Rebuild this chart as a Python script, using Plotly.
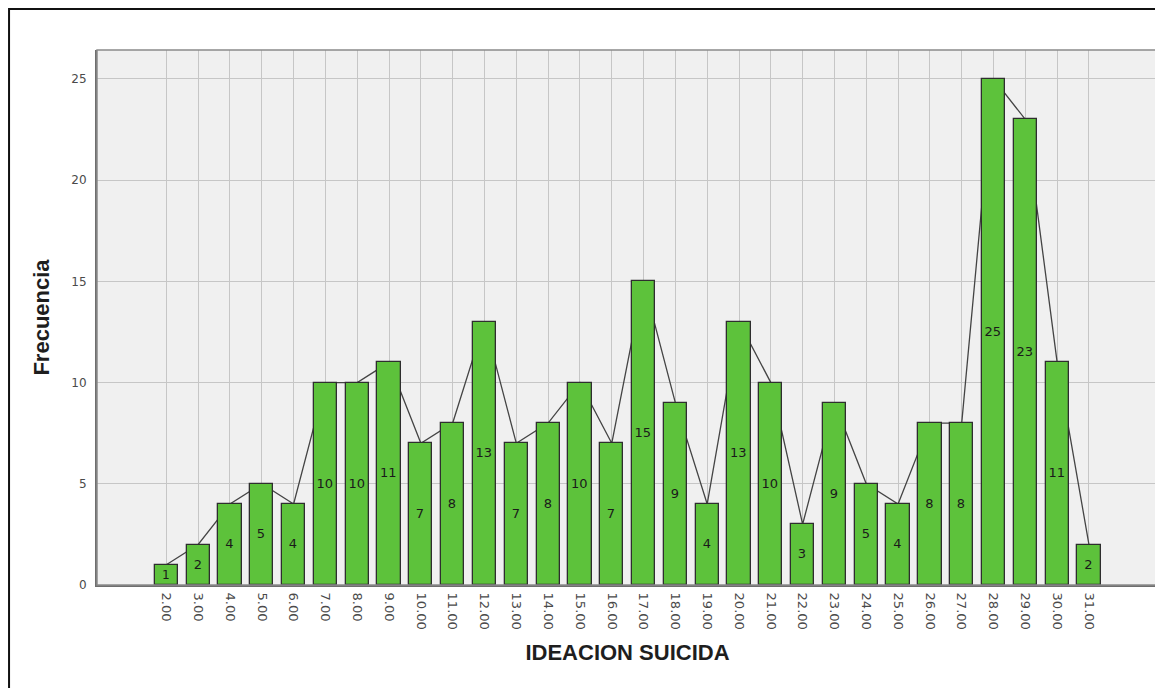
import plotly.graph_objects as go

puntajes = [2, 3, 4, 5, 6, 7, 8, 9, 10, 11, 12, 13, 14, 15, 16, 17, 18, 19, 20, 21,
            22, 23, 24, 25, 26, 27, 28, 29, 30, 31]
frecuencias = [1, 2, 4, 5, 4, 10, 10, 11, 7, 8, 13, 7, 8, 10, 7, 15, 9, 4, 13, 10,
               3, 9, 5, 4, 8, 8, 25, 23, 11, 2]
etiquetas_x = ["%.2f" % v for v in puntajes]
ticks_y = [0, 5, 10, 15, 20, 25]

XR = [-0.18, 33.17]
YR = [0, 26.43]
FONT = "DejaVu Sans, Verdana, sans-serif"
TFONT = "Liberation Sans, Arial, sans-serif"

fig = go.Figure()

# polygon line (drawn beneath bars)
fig.add_trace(go.Scatter(
    x=puntajes, y=frecuencias, mode="lines",
    line=dict(color="#444444", width=1.3),
    hoverinfo="skip", showlegend=False, xaxis="x", yaxis="y"))

fig.add_trace(go.Bar(
    x=puntajes, y=frecuencias, width=0.73,
    marker=dict(color="#5dc23b", line=dict(color="#2e2e2e", width=1.3)),
    text=[str(v) for v in frecuencias], textposition="inside",
    insidetextanchor="middle", textangle=0,
    textfont=dict(family=FONT, size=13, color="#1a1a1a"),
    showlegend=False, xaxis="x2", yaxis="y2"))

fig.update_layout(
    width=1155, height=680,
    margin=dict(l=89, r=5, t=42, b=103),
    paper_bgcolor="white", plot_bgcolor="#f0f0f0",
    font=dict(family=FONT, color="#555555"),
    xaxis=dict(range=XR, tickmode="array", tickvals=puntajes, ticktext=etiquetas_x,
               tickangle=90, tickfont=dict(size=13, color="#4a4a4a"),
               showgrid=True, gridcolor="#c6c6c6", gridwidth=1.4,
               zeroline=False, showline=True, linecolor="#6e6e6e", linewidth=2,
               ticks="outside", ticklen=3, tickcolor="rgba(0,0,0,0)",
               title=dict(text="IDEACION SUICIDA",
                          font=dict(size=22, color="#1e1e1e", family=TFONT, weight="bold"),
                          standoff=16)),
    yaxis=dict(range=YR, tickmode="array", tickvals=ticks_y,
               tickfont=dict(size=12, color="#4a4a4a"),
               showgrid=True, gridcolor="#c6c6c6", gridwidth=1.4,
               zeroline=False, showline=True, linecolor="#6e6e6e", linewidth=2,
               ticks="outside", ticklen=6, tickcolor="rgba(0,0,0,0)",
               title=dict(text="Frecuencia",
                          font=dict(size=22, color="#1e1e1e", family=TFONT, weight="bold"),
                          standoff=16)),
    xaxis2=dict(range=XR, overlaying="x", visible=False),
    yaxis2=dict(range=YR, overlaying="y", visible=False),
    bargap=0,
    shapes=[
        dict(type="rect", xref="paper", yref="paper", x0=0, x1=1, y0=0, y1=1,
             line=dict(color="#8a8a8a", width=1.5), layer="above"),
        dict(type="rect", xref="paper", yref="paper", x0=-0.0829, x1=1.03,
             y0=-0.25, y1=1.0766, line=dict(color="#111111", width=2)),
    ],
)

fig.write_html("out.html")
